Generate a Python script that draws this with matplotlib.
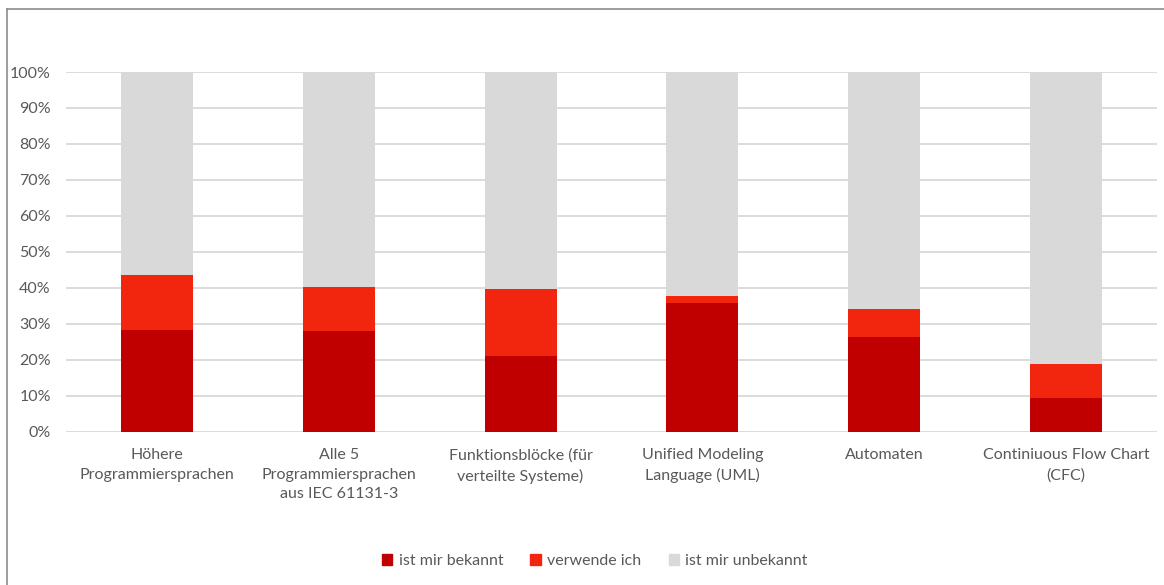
import matplotlib
matplotlib.use("Agg")
import matplotlib.pyplot as plt
from matplotlib.lines import Line2D
from matplotlib.ticker import FuncFormatter, MultipleLocator

categories = [
    "Höhere\nProgrammiersprachen",
    "Alle 5\nProgrammiersprachen\naus IEC 61131-3",
    "Funktionsblöcke (für\nverteilte Systeme)",
    "Unified Modeling\nLanguage (UML)",
    "Automaten",
    "Continiuous Flow Chart\n(CFC)",
]
bekannt = [28.3, 28.1, 21.0, 35.9, 26.4, 9.5]
verwende = [15.2, 12.2, 18.6, 1.8, 7.6, 9.3]
unbekannt = [100 - a - b for a, b in zip(bekannt, verwende)]
series_names = ["ist mir bekannt", "verwende ich", "ist mir unbekannt"]
colors = ["#C00000", "#F2260F", "#D9D9D9"]

plt.rcParams["font.family"] = ["Lato", "DejaVu Sans"]
txt = "#595959"
fs = 11.5

fig = plt.figure(figsize=(11.64, 5.85), dpi=100)
ax = fig.add_axes([66 / 1164, 1 - 431.7 / 585, (1157 - 66) / 1164, (431.7 - 72) / 585])

x = list(range(len(categories)))
w = 0.396
bottoms = [0] * len(x)
for vals, col, name in zip([bekannt, verwende, unbekannt], colors, series_names):
    ax.bar(x, vals, w, bottom=bottoms, color=col, label=name, zorder=3)
    bottoms = [b + v for b, v in zip(bottoms, vals)]

ax.set_xlim(-0.5, len(x) - 0.5)
ax.set_ylim(0, 100)
ax.yaxis.set_major_locator(MultipleLocator(10))
ax.yaxis.set_major_formatter(FuncFormatter(lambda v, p: f"{v:.0f}%"))
ax.grid(axis="y", color="#D9D9D9", linewidth=1.3, zorder=0)
for s in ax.spines.values():
    s.set_visible(False)
ax.tick_params(axis="both", length=0, colors=txt, labelsize=fs)
ax.tick_params(axis="y", pad=11)
ax.tick_params(axis="x", pad=12)
ax.set_xticks(x)
ax.set_xticklabels(categories, linespacing=1.5)

handles = [plt.Rectangle((0, 0), 1, 1, color=c) for c in colors]
fig.legend(handles, series_names, loc="center", bbox_to_anchor=(0.511, 1 - 561 / 585),
           ncol=3, frameon=False, fontsize=fs, labelcolor=txt,
           handlelength=0.65, handleheight=0.65, handletextpad=0.4, columnspacing=1.7)

# outer border (top and left)
fig.add_artist(Line2D([7 / 1164, 1], [1 - 9 / 585, 1 - 9 / 585], transform=fig.transFigure,
                      color="#8C8C8C", linewidth=1.2))
fig.add_artist(Line2D([7 / 1164, 7 / 1164], [0, 1 - 9 / 585], transform=fig.transFigure,
                      color="#8C8C8C", linewidth=1.2))

fig.savefig("out.png", dpi=100, facecolor="white")
